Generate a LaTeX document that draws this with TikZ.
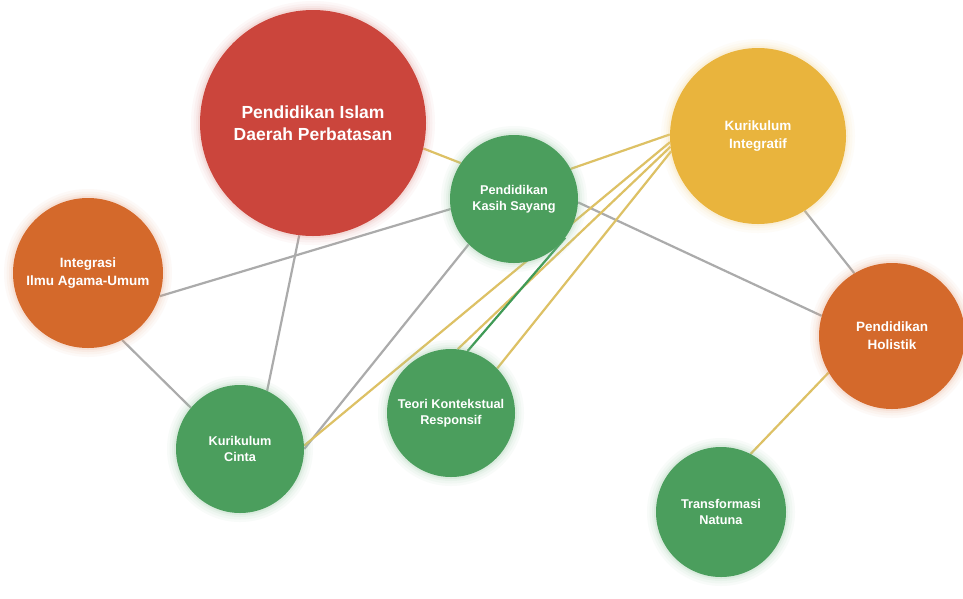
\documentclass[tikz,border=0pt]{standalone}
\usepackage{fontspec}
\setmainfont{Liberation Sans}
\usetikzlibrary{backgrounds}
\definecolor{cred}{HTML}{CB453C}
\definecolor{cyel}{HTML}{E9B43D}
\definecolor{cgrn}{HTML}{4B9E5D}
\definecolor{cora}{HTML}{D4692B}
\definecolor{lgray}{HTML}{ABABAB}
\definecolor{lyel}{HTML}{DDC165}
\definecolor{lgrn}{HTML}{3F9A56}
\begin{document}
\begin{tikzpicture}[x=1pt,y=-1pt,
  bubble/.style={circle, inner sep=0pt, text=white, align=center, fill=#1,
    preaction={draw=#1!60!white, draw opacity=0.06, line width=18pt},
    preaction={draw=#1!60!white, draw opacity=0.07, line width=13pt},
    preaction={draw=#1!60!white, draw opacity=0.09, line width=8pt},
    preaction={draw=#1!70!white, draw opacity=0.12, line width=4pt}},
  fsmall/.style={font=\bfseries\fontsize{12.7}{16}\selectfont},
  fmid/.style={font=\bfseries\fontsize{13.5}{18}\selectfont},
  fbig/.style={font=\bfseries\fontsize{17.5}{22}\selectfont},
  link/.style={line width=2.2pt, draw=#1}]
\useasboundingbox (0,0) rectangle (963,598);

\node[bubble=cred, minimum size=226pt, fbig] (isl) at (313,123) {Pendidikan Islam\\Daerah Perbatasan};
\node[bubble=cyel, minimum size=176pt, fmid] (kint) at (758,136) {Kurikulum\\Integratif};
\node[bubble=cgrn, minimum size=128pt, fsmall] (kas) at (514,199) {Pendidikan\\Kasih Sayang};
\node[bubble=cora, minimum size=150pt, fmid] (iia) at (88,273) {Integrasi\\Ilmu Agama-Umum};
\node[bubble=cora, minimum size=146pt, fmid] (hol) at (892,336) {Pendidikan\\Holistik};
\node[bubble=cgrn, minimum size=128pt, fsmall] (kc) at (240,449) {Kurikulum\\Cinta};
\node[bubble=cgrn, minimum size=128pt, fsmall] (tkr) at (451,413) {Teori Kontekstual\\Responsif};
\node[bubble=cgrn, minimum size=130pt, fsmall] (tn) at (721,512) {Transformasi\\Natuna};

\begin{scope}[on background layer]
\fill[white] (0,0) rectangle (963,598);
% gray links
\draw[link=lgray] (isl.-97.6) -- (kc.65.4);
\draw[link=lgray] (iia.-18.4) -- (kas.189.8);
\draw[link=lgray] (iia.-63.4) -- (kc.140.6);
\draw[link=lgray] (kas.-135) -- (kc.0);
\draw[link=lgray] (kas.-3) -- (hol.164.6);
\draw[link=lgray] (kint.-58.3) -- (hol.121.8);
% yellow links
\draw[link=lyel] (isl.-13.6) -- (kas.146.3);
\draw[link=lyel] (kint.179.3) -- (kas.28.9);
\draw[link=lyel] (kint.184.4) -- (kc.3);
\draw[link=lyel] (kint.187.7) -- (tkr.84.6);
\draw[link=lyel] (kint.190.3) -- (tkr.44.4);
\draw[link=lyel] (hol.210) -- (tn.63.4);
% green link
\draw[link=lgrn] (kas.-37.7) -- (tkr.75.7);
\end{scope}
\end{tikzpicture}
\end{document}
